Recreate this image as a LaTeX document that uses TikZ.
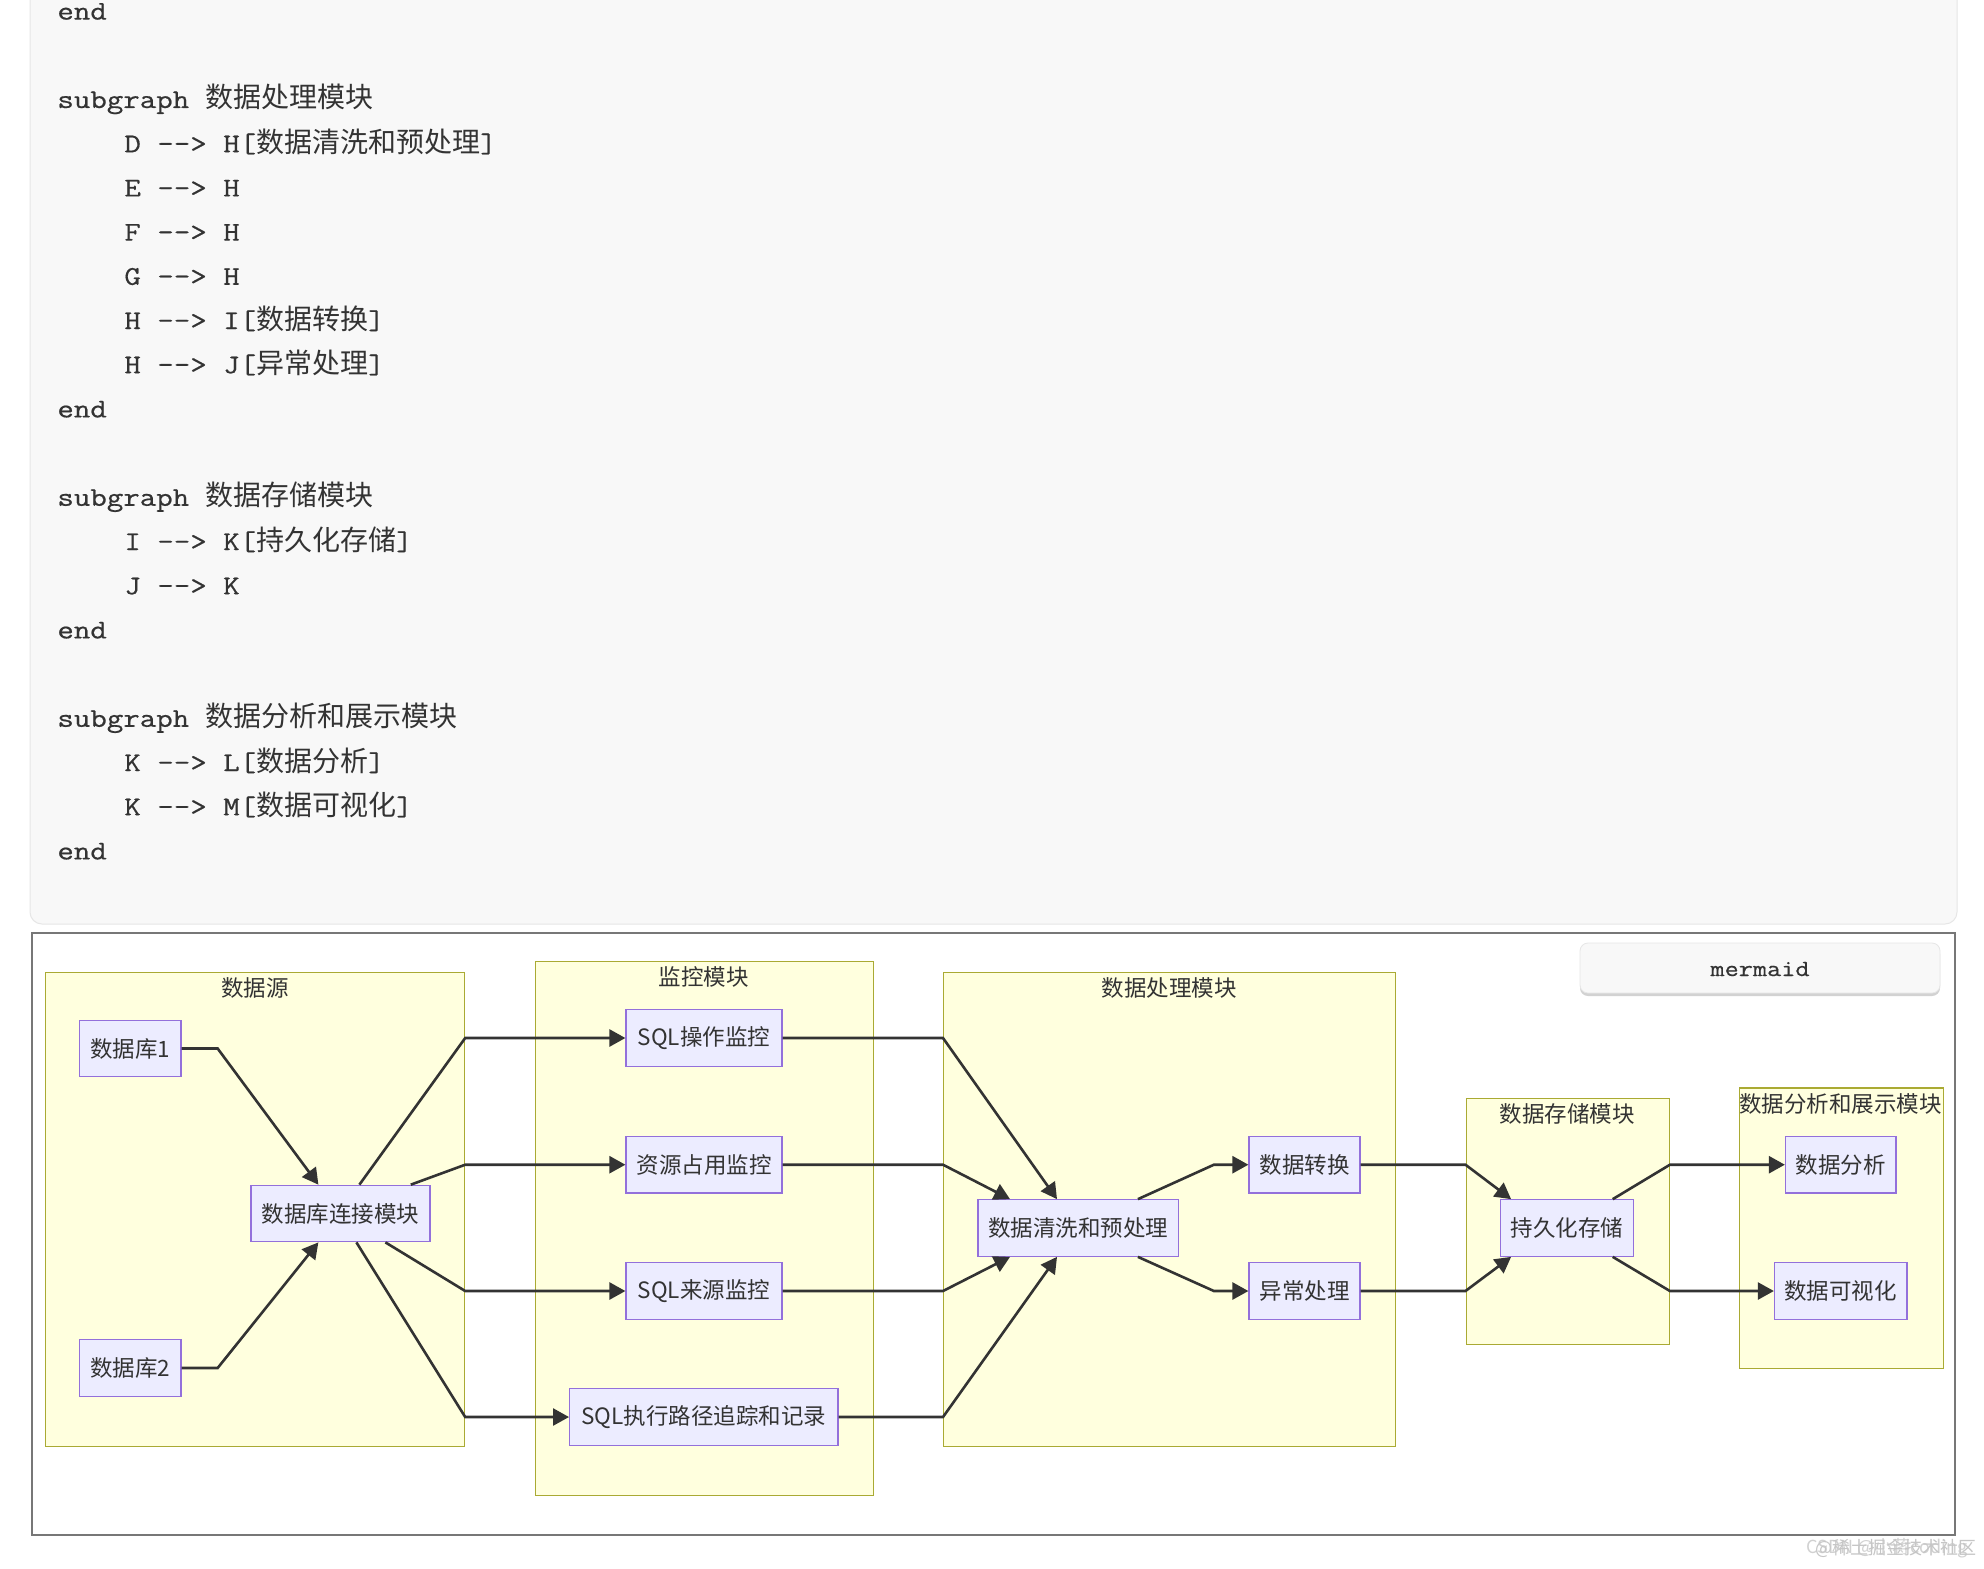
\documentclass[tikz,border=0pt]{standalone}
\usepackage{fontspec}
\setmainfont{Noto Sans CJK SC}
\newfontfamily\cjk{Noto Sans CJK SC}
\newfontfamily\codefont{Latin Modern Mono}[FakeStretch=1.185,FakeBold=0.6]
\usetikzlibrary{arrows.meta,calc}
\definecolor{sgfill}{HTML}{FFFFDE}
\definecolor{sgdraw}{HTML}{AAAA33}
\definecolor{nfill}{HTML}{ECECFF}
\definecolor{ndraw}{HTML}{9370DB}
\definecolor{edgec}{HTML}{333333}
\definecolor{txt}{HTML}{333333}
\definecolor{codebg}{HTML}{F8F8F8}
\definecolor{codeline}{HTML}{E6E6E6}
\definecolor{framec}{HTML}{777777}
\newcommand\cz[1]{{\cjk\fontsize{14pt}{16pt}\selectfont #1}}
\newcommand\arr{-\kern0pt-\kern0pt>}
\tikzset{
  sg/.style={draw=sgdraw, fill=sgfill, line width=0.6pt, inner sep=0, anchor=north west},
  sglabel/.style={inner sep=0, text=txt, font=\fontsize{11.25pt}{13pt}\selectfont},
  box/.style={draw=ndraw, fill=nfill, line width=0.6pt, minimum height=28.25pt,
    minimum width=#1*0.5pt, inner sep=0, text=txt, font=\fontsize{11.25pt}{13pt}\selectfont},
  edgeline/.style={draw=edgec, line width=1.3pt, line join=miter,
    -{Triangle[length=8pt,width=8.5pt]}},
  codetxt/.style={anchor=base west, inner sep=0, text=txt,
    font=\codefont\fontsize{13.5pt}{16pt}\selectfont},
}
\begin{document}
\begin{tikzpicture}[x=0.5pt,y=-0.5pt]
\useasboundingbox (0,0) rectangle (1984,1568);
\fill[white] (0,0) rectangle (1984,1568);
% code block
\filldraw[fill=codebg, draw=codeline, line width=0.5pt, rounded corners=6pt] (30,-30) rectangle (1957,924);
\foreach \n/\xx/\t in {
  0/57/{end},
  2/57/{subgraph \cz{数据处理模块}},
  3/124/{D \arr{} H[\cz{数据清洗和预处理}]},
  4/124/{E \arr{} H},
  5/124/{F \arr{} H},
  6/124/{G \arr{} H},
  7/124/{H \arr{} I[\cz{数据转换}]},
  8/124/{H \arr{} J[\cz{异常处理}]},
  9/57/{end},
  11/57/{subgraph \cz{数据存储模块}},
  12/124/{I \arr{} K[\cz{持久化存储}]},
  13/124/{J \arr{} K},
  14/57/{end},
  16/57/{subgraph \cz{数据分析和展示模块}},
  17/124/{K \arr{} L[\cz{数据分析}]},
  18/124/{K \arr{} M[\cz{数据可视化}]},
  19/57/{end}}
  {\node[codetxt] (code\n) at (\xx,{19.6+\n*44.2}) {\t};}
% frame
\draw[framec, line width=1pt] (32,933) rectangle (1955,1535);
% mermaid button
\fill[gray!35, rounded corners=4pt] (1580,946) rectangle (1940,996);
\filldraw[fill=codebg, draw=codeline, line width=0.4pt, rounded corners=4pt] (1580,943) rectangle (1940,993);
\node[inner sep=0, text=txt, font=\codefont\fontsize{11.6pt}{13pt}\selectfont] (mer) at (1760,969) {mermaid};
% subgraphs
\node[sg, minimum width=209.7pt, minimum height=237pt] (ds) at (44.6,971.7) {};
\node[sg, minimum width=169pt, minimum height=266.75pt] (mon) at (534.5,961) {};
\node[sg, minimum width=226pt, minimum height=237pt] (dp) at (943,971.7) {};
\node[sg, minimum width=101.6pt, minimum height=122.95pt] (st) at (1465.5,1097.7) {};
\node[sg, minimum width=102pt, minimum height=140.1pt] (an) at (1738.5,1087.4) {};
\node[sglabel] (lds) at (255,988) {数据源};
\node[sglabel] (lmon) at (703.5,977) {监控模块};
\node[sglabel] (ldp) at (1169,988) {数据处理模块};
\node[sglabel] (lst) at (1567,1114) {数据存储模块};
\node[sglabel] (lan) at (1840.5,1104) {数据分析和展示模块};
% nodes
\node[box=101.3] (db1) at (130.4,1048.5) {数据库1};
\node[box=101.3] (db2) at (130.4,1368) {数据库2};
\node[box=179] (conn) at (340.5,1213.5) {数据库连接模块};
\node[box=156] (sqlop) at (704,1038) {SQL操作监控};
\node[box=156] (res) at (704,1164.7) {资源占用监控};
\node[box=156] (src) at (704,1291) {SQL来源监控};
\node[box=268.4] (path) at (703.8,1417) {SQL执行路径追踪和记录};
\node[box=200.6] (clean) at (1078.3,1228) {数据清洗和预处理};
\node[box=111] (conv) at (1304.5,1164.7) {数据转换};
\node[box=111] (exc) at (1304.5,1291) {异常处理};
\node[box=132.8] (persist) at (1567,1228) {持久化存储};
\node[box=110.5] (ana) at (1840.7,1164.7) {数据分析};
\node[box=132.5] (vis) at (1840.7,1291) {数据可视化};
% edges
\draw[edgeline] (db1.east) -- ++(36,0) -- ($(conn.north west)+(68,0)$);
\draw[edgeline] (db2.east) -- ++(36,0) -- ($(conn.south west)+(68,0)$);
\draw[edgeline] ($(conn.north west)+(109,0)$) -- (sqlop.west -| ds.east) -- (sqlop.west);
\draw[edgeline] ($(conn.north west)+(160.4,0)$) -- (res.west -| ds.east) -- (res.west);
\draw[edgeline] ($(conn.south west)+(135,0)$) -- (src.west -| ds.east) -- (src.west);
\draw[edgeline] ($(conn.south west)+(106,0)$) -- (path.west -| ds.east) -- (path.west);
\draw[edgeline] (sqlop.east) -- (sqlop.east -| dp.west) -- ($(clean.north west)+(79.6,0)$);
\draw[edgeline] (res.east) -- (res.east -| dp.west) -- ($(clean.north west)+(32.6,0)$);
\draw[edgeline] (src.east) -- (src.east -| dp.west) -- ($(clean.south west)+(32.6,0)$);
\draw[edgeline] (path.east) -- (path.east -| dp.west) -- ($(clean.south west)+(79.6,0)$);
\draw[edgeline] ($(clean.north west)+(160.5,0)$) -- ($(conv.west)+(-34.5,0)$) -- (conv.west);
\draw[edgeline] ($(clean.south west)+(160.5,0)$) -- ($(exc.west)+(-34.5,0)$) -- (exc.west);
\draw[edgeline] (conv.east) -- (conv.east -| st.west) -- ($(persist.north west)+(11.1,0)$);
\draw[edgeline] (exc.east) -- (exc.east -| st.west) -- ($(persist.south west)+(11.1,0)$);
\draw[edgeline] ($(persist.north west)+(112.7,0)$) -- (ana.west -| st.east) -- (ana.west);
\draw[edgeline] ($(persist.south west)+(112.7,0)$) -- (vis.west -| st.east) -- (vis.west);
% watermark
\node[anchor=east, inner sep=0, text=gray!45, font=\fontsize{9pt}{10pt}\selectfont] (wm1) at (1977,1548) {@稀土掘金技术社区};
\node[anchor=east, inner sep=0, text=gray!45, opacity=0.8, font=\fontsize{9pt}{10pt}\selectfont] (wm2) at (1968,1548) {CSDN @小蒋coding};
\end{tikzpicture}
\end{document}
